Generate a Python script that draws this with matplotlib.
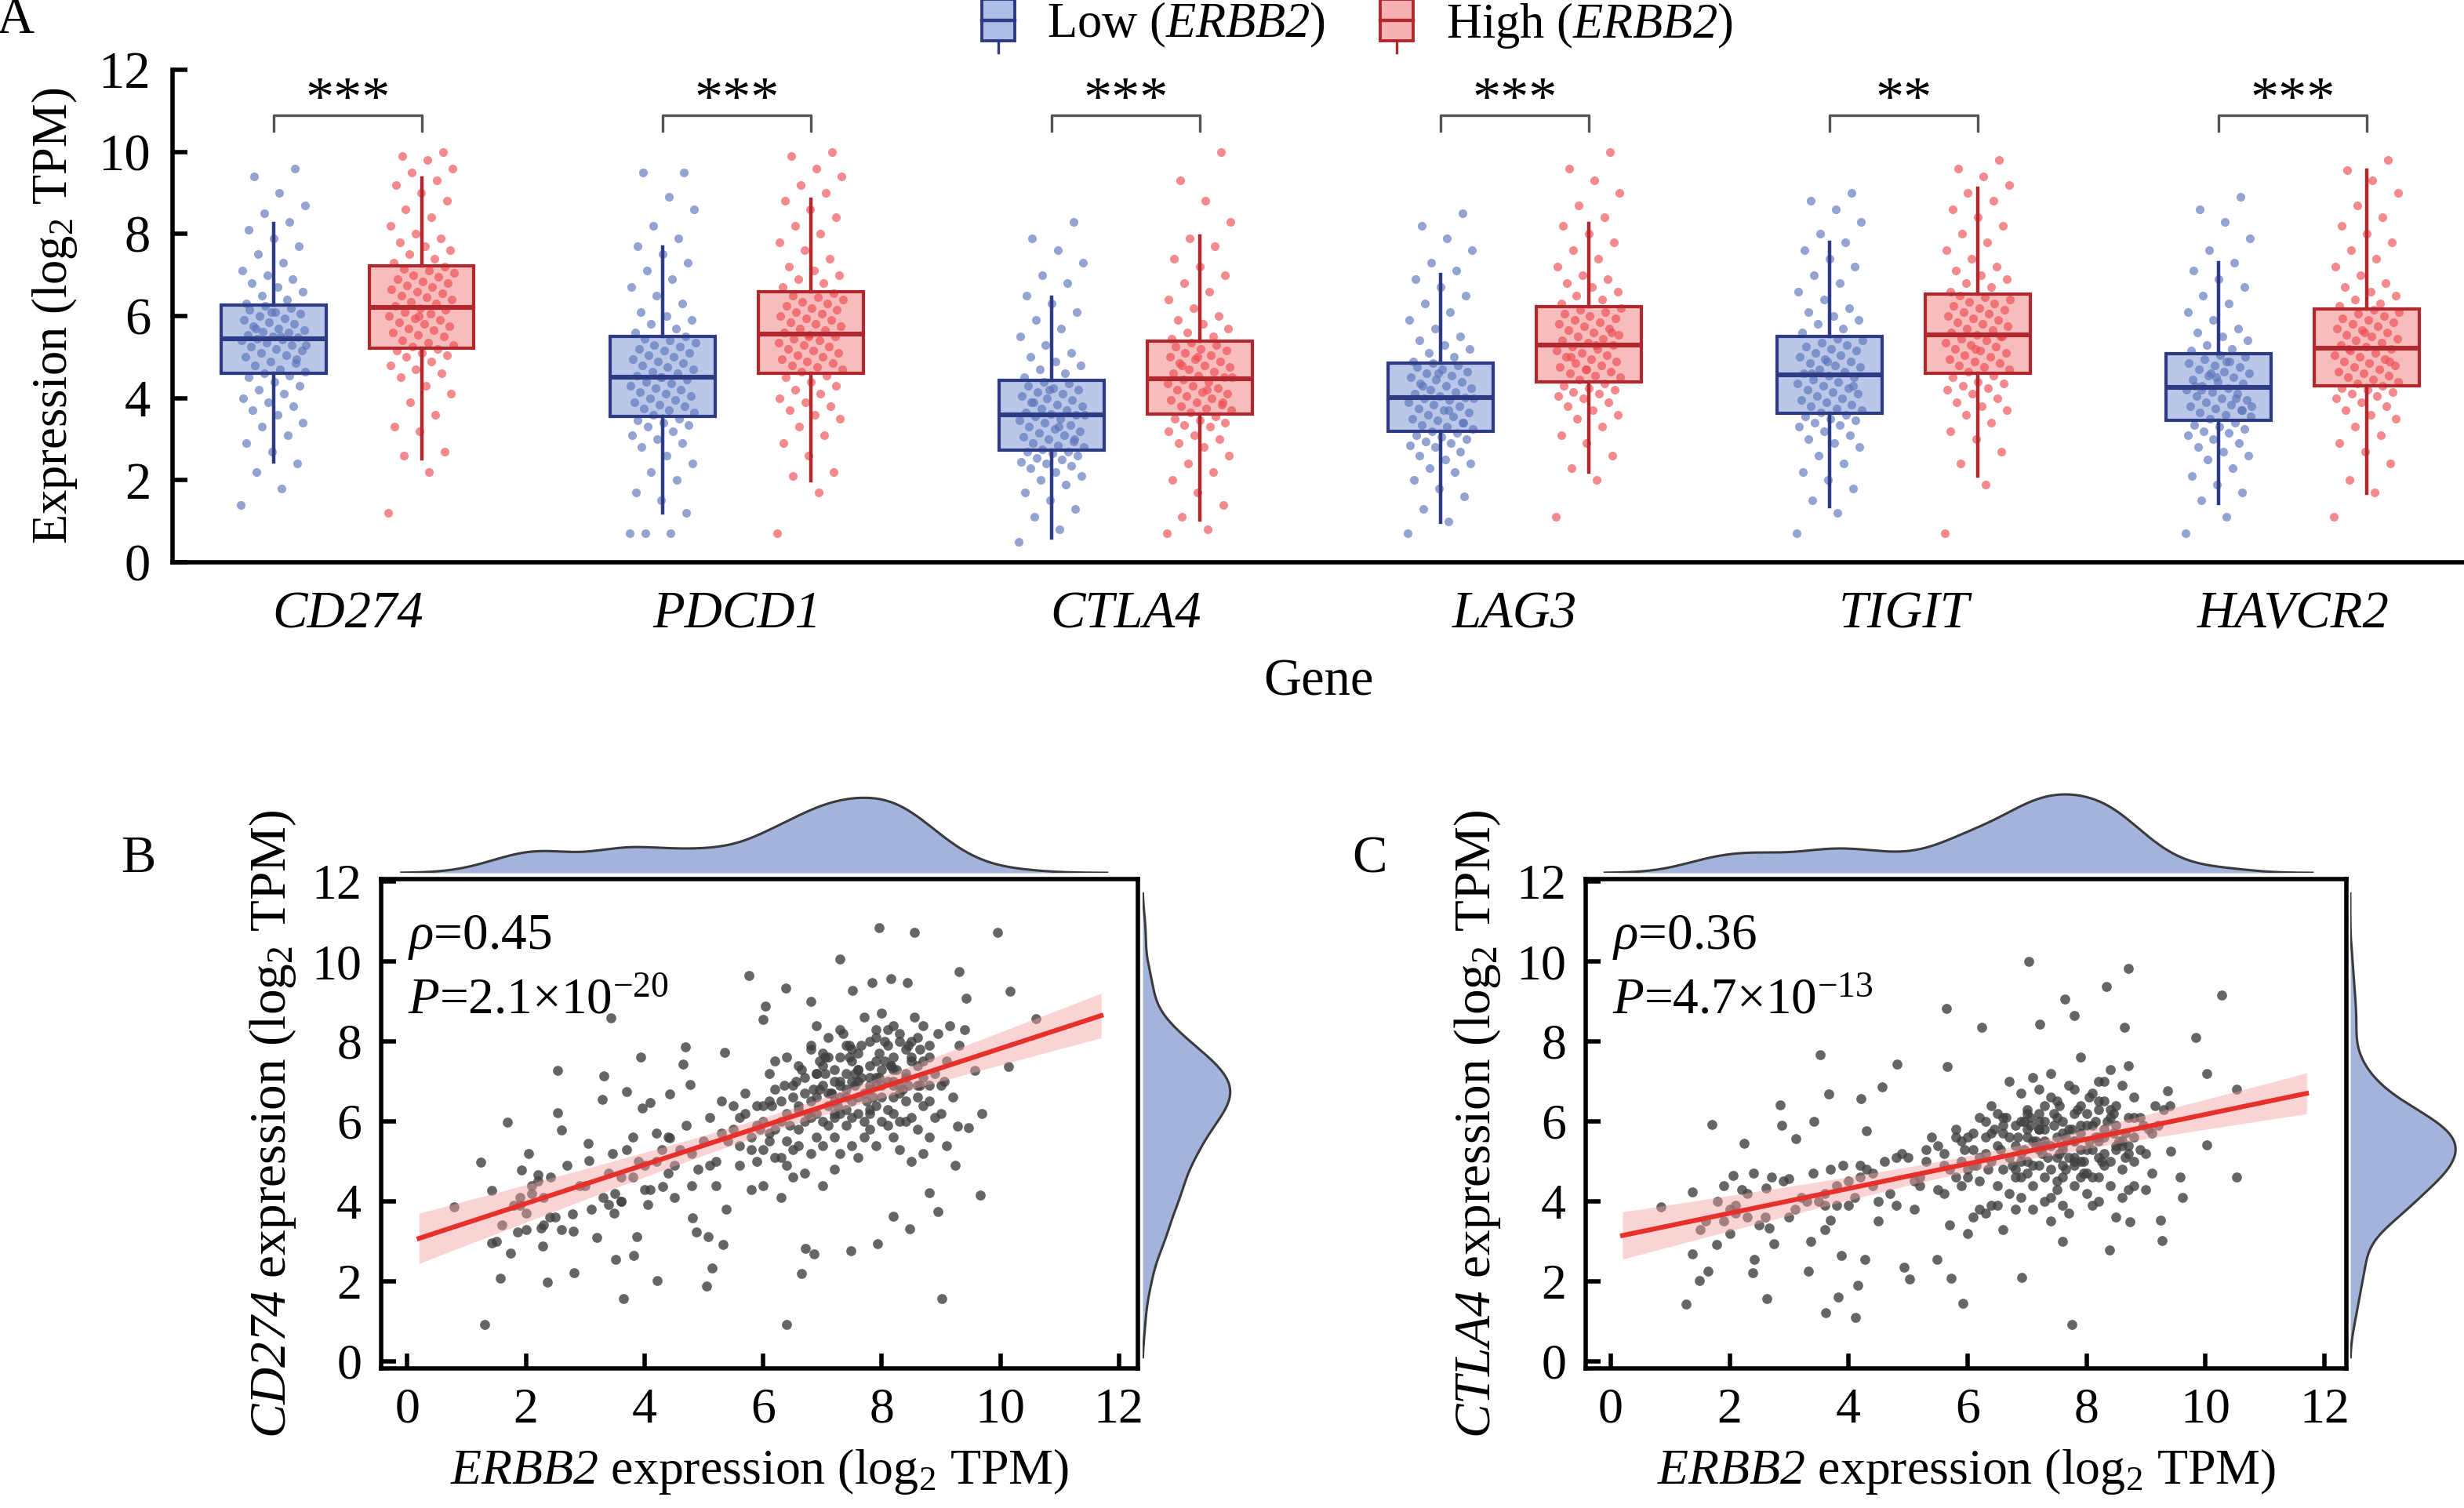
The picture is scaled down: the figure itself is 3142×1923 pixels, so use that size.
import numpy as np
import matplotlib
matplotlib.use("Agg")
from matplotlib import pyplot as plt
from matplotlib.patches import Rectangle, Patch
from matplotlib.lines import Line2D
from matplotlib.legend_handler import HandlerBase

# ---------- data: panel A (box stats) ----------
genes = ["CD274", "PDCD1", "CTLA4", "LAG3", "TIGIT", "HAVCR2"]
stars = ["***", "***", "***", "***", "**", "***"]

low_med = [5.45, 4.51, 3.59, 4.01, 4.57, 4.27]
low_q1 = [4.60, 3.56, 2.73, 3.19, 3.63, 3.45]
low_q3 = [6.27, 5.51, 4.43, 4.85, 5.50, 5.09]
low_whislo = [2.45, 1.20, 0.60, 0.98, 1.36, 1.44]
low_whishi = [8.25, 7.69, 6.46, 7.01, 7.80, 7.29]

high_med = [6.21, 5.56, 4.47, 5.29, 5.54, 5.22]
high_q1 = [5.22, 4.60, 3.61, 4.40, 4.60, 4.30]
high_q3 = [7.23, 6.59, 5.39, 6.22, 6.53, 6.18]
high_whislo = [2.52, 1.99, 1.03, 2.20, 2.10, 1.69]
high_whishi = [9.37, 8.84, 7.94, 8.25, 9.12, 9.56]

# jittered points (estimated)
low_cd274 = [1.4, 1.8, 2.2, 2.4, 2.7, 2.9, 3.1, 3.3, 3.4, 3.6, 3.7, 3.8, 3.9, 4.0, 4.1, 4.2, 4.3, 4.4, 4.5, 4.55,
             4.6, 4.65, 4.7, 4.8, 4.85, 4.9, 5.0, 5.05, 5.1, 5.15, 5.2, 5.25, 5.3, 5.35, 5.4, 5.42, 5.45, 5.48, 5.5, 5.55,
             5.6, 5.62, 5.65, 5.7, 5.75, 5.8, 5.85, 5.9, 5.95, 6.0, 6.05, 6.1, 6.15, 6.2, 6.25, 5.3, 5.5, 5.7, 4.95, 6.1,
             6.3, 6.4, 6.5, 6.6, 6.7, 6.8, 6.9, 7.0, 7.1, 7.3, 7.5, 7.7, 7.9, 8.1, 8.3, 8.5, 8.7, 9.0, 9.4, 9.6]
high_cd274 = [1.2, 2.2, 2.6, 2.7, 3.2, 3.3, 3.6, 3.9, 4.1, 4.3, 4.5, 4.6, 4.7, 4.8, 4.9, 5.0, 5.05, 5.1, 5.15, 5.2,
              5.25, 5.3, 5.35, 5.4, 5.5, 5.55, 5.6, 5.65, 5.7, 5.75, 5.8, 5.85, 5.9, 5.95, 6.0, 6.05, 6.1, 6.15, 6.2, 6.25,
              6.3, 6.35, 6.4, 6.45, 6.5, 6.55, 6.6, 6.65, 6.7, 6.75, 6.8, 6.85, 6.9, 6.95, 7.0, 7.05, 7.1, 7.15, 7.2, 6.0,
              7.3, 7.4, 7.5, 7.6, 7.7, 7.8, 7.9, 8.0, 8.2, 8.4, 8.6, 8.8, 9.0, 9.2, 9.3, 9.5, 9.6, 9.8, 9.9, 10.0]
low_pdcd1 = [0.7, 0.7, 0.7, 1.2, 1.5, 1.7, 2.0, 2.2, 2.4, 2.6, 2.8, 2.9, 3.0, 3.1, 3.2, 3.3, 3.35, 3.4, 3.45, 3.5,
             3.6, 3.65, 3.7, 3.75, 3.8, 3.85, 3.9, 3.95, 4.0, 4.05, 4.1, 4.15, 4.2, 4.25, 4.3, 4.35, 4.4, 4.45, 4.5, 4.55,
             4.6, 4.65, 4.7, 4.75, 4.8, 4.85, 4.9, 4.95, 5.0, 5.05, 5.1, 5.15, 5.2, 5.25, 5.3, 5.35, 5.4, 5.45, 5.5, 4.5,
             5.6, 5.7, 5.8, 5.9, 6.0, 6.1, 6.3, 6.5, 6.7, 6.9, 7.1, 7.3, 7.5, 7.7, 7.9, 8.2, 8.6, 8.9, 9.5, 9.5]
high_pdcd1 = [0.7, 1.7, 2.1, 2.2, 2.6, 2.9, 3.1, 3.3, 3.5, 3.6, 3.7, 3.8, 3.9, 4.0, 4.1, 4.2, 4.3, 4.4, 4.5, 4.55,
              4.65, 4.7, 4.75, 4.8, 4.85, 4.9, 4.95, 5.0, 5.05, 5.1, 5.15, 5.2, 5.25, 5.3, 5.35, 5.4, 5.45, 5.5, 5.55, 5.6,
              5.65, 5.7, 5.75, 5.8, 5.85, 5.9, 5.95, 6.0, 6.05, 6.1, 6.15, 6.2, 6.25, 6.3, 6.35, 6.4, 6.45, 6.5, 6.55, 5.5,
              6.7, 6.8, 6.9, 7.0, 7.1, 7.2, 7.4, 7.6, 7.8, 8.0, 8.2, 8.4, 8.6, 8.8, 9.0, 9.2, 9.4, 9.6, 9.9, 10.0]
low_ctla4 = [0.5, 0.8, 1.1, 1.3, 1.5, 1.7, 1.9, 2.0, 2.1, 2.2, 2.3, 2.35, 2.4, 2.45, 2.5, 2.55, 2.6, 2.65, 2.7, 2.7,
             2.75, 2.8, 2.85, 2.9, 2.95, 3.0, 3.05, 3.1, 3.15, 3.2, 3.25, 3.3, 3.35, 3.4, 3.45, 3.5, 3.55, 3.6, 3.62, 3.65,
             3.7, 3.75, 3.8, 3.85, 3.9, 3.95, 4.0, 4.05, 4.1, 4.15, 4.2, 4.25, 4.3, 4.35, 4.4, 3.6, 3.3, 3.9, 3.0, 4.2,
             4.5, 4.6, 4.7, 4.8, 4.9, 5.0, 5.1, 5.3, 5.5, 5.7, 5.9, 6.1, 6.3, 6.5, 6.8, 7.0, 7.3, 7.6, 7.9, 8.3]
high_ctla4 = [0.7, 0.8, 1.1, 1.4, 1.7, 2.0, 2.2, 2.4, 2.6, 2.8, 2.9, 3.0, 3.1, 3.2, 3.3, 3.35, 3.4, 3.45, 3.5, 3.55,
              3.65, 3.7, 3.75, 3.8, 3.85, 3.9, 3.95, 4.0, 4.05, 4.1, 4.15, 4.2, 4.25, 4.3, 4.35, 4.4, 4.45, 4.5, 4.55, 4.6,
              4.65, 4.7, 4.75, 4.8, 4.85, 4.9, 4.95, 5.0, 5.05, 5.1, 5.15, 5.2, 5.25, 5.3, 5.35, 4.5, 4.2, 4.8, 3.9, 5.0,
              5.45, 5.5, 5.6, 5.7, 5.8, 5.9, 6.0, 6.2, 6.4, 6.6, 6.8, 7.0, 7.2, 7.4, 7.7, 7.9, 8.3, 8.8, 9.3, 10.0]
low_lag3 = [0.7, 1.0, 1.3, 1.6, 1.8, 2.0, 2.2, 2.3, 2.4, 2.5, 2.6, 2.7, 2.8, 2.85, 2.9, 2.95, 3.0, 3.05, 3.1, 3.15,
            3.2, 3.25, 3.3, 3.35, 3.4, 3.45, 3.5, 3.55, 3.6, 3.65, 3.7, 3.75, 3.8, 3.85, 3.9, 3.95, 4.0, 4.02, 4.05, 4.1,
            4.15, 4.2, 4.25, 4.3, 4.35, 4.4, 4.45, 4.5, 4.55, 4.6, 4.65, 4.7, 4.75, 4.8, 4.85, 4.0, 3.7, 4.3, 3.4, 4.6,
            4.9, 5.0, 5.1, 5.2, 5.3, 5.4, 5.5, 5.7, 5.9, 6.1, 6.3, 6.5, 6.7, 6.9, 7.1, 7.3, 7.6, 7.9, 8.2, 8.5]
high_lag3 = [1.1, 2.0, 2.3, 2.6, 2.9, 3.1, 3.3, 3.5, 3.6, 3.7, 3.8, 3.9, 4.0, 4.05, 4.1, 4.15, 4.2, 4.25, 4.3, 4.35,
             4.45, 4.5, 4.55, 4.6, 4.65, 4.7, 4.75, 4.8, 4.85, 4.9, 4.95, 5.0, 5.05, 5.1, 5.15, 5.2, 5.25, 5.3, 5.35, 5.4,
             5.45, 5.5, 5.55, 5.6, 5.65, 5.7, 5.75, 5.8, 5.85, 5.9, 5.95, 6.0, 6.05, 6.1, 6.15, 6.2, 5.3, 5.0, 5.6, 4.7,
             6.3, 6.4, 6.5, 6.6, 6.7, 6.8, 6.9, 7.0, 7.2, 7.4, 7.6, 7.8, 8.0, 8.2, 8.4, 8.7, 9.0, 9.3, 9.6, 10.0]
low_tigit = [0.7, 1.2, 1.5, 1.8, 2.0, 2.2, 2.4, 2.6, 2.8, 2.9, 3.0, 3.1, 3.2, 3.3, 3.35, 3.4, 3.45, 3.5, 3.55, 3.6,
             3.65, 3.7, 3.75, 3.8, 3.85, 3.9, 3.95, 4.0, 4.05, 4.1, 4.15, 4.2, 4.25, 4.3, 4.35, 4.4, 4.45, 4.5, 4.55, 4.6,
             4.65, 4.7, 4.75, 4.8, 4.85, 4.9, 4.95, 5.0, 5.05, 5.1, 5.15, 5.2, 5.25, 5.3, 5.35, 5.4, 5.45, 4.6, 4.3, 4.9,
             5.6, 5.7, 5.8, 5.9, 6.0, 6.1, 6.2, 6.4, 6.6, 6.8, 7.0, 7.2, 7.4, 7.6, 7.8, 8.0, 8.3, 8.6, 8.8, 9.0]
high_tigit = [0.7, 1.9, 2.4, 2.7, 3.0, 3.2, 3.4, 3.6, 3.7, 3.8, 3.9, 4.0, 4.1, 4.2, 4.25, 4.3, 4.35, 4.4, 4.5, 4.55,
              4.65, 4.7, 4.75, 4.8, 4.85, 4.9, 4.95, 5.0, 5.05, 5.1, 5.15, 5.2, 5.25, 5.3, 5.35, 5.4, 5.45, 5.5, 5.55, 5.6,
              5.65, 5.7, 5.75, 5.8, 5.85, 5.9, 5.95, 6.0, 6.05, 6.1, 6.15, 6.2, 6.25, 6.3, 6.35, 6.4, 6.45, 6.5, 5.5, 5.2,
              6.6, 6.7, 6.8, 6.9, 7.0, 7.1, 7.2, 7.4, 7.6, 7.8, 8.0, 8.2, 8.4, 8.6, 8.8, 9.0, 9.2, 9.4, 9.6, 9.8]
low_havcr2 = [0.7, 1.1, 1.5, 1.7, 1.9, 2.1, 2.3, 2.5, 2.6, 2.7, 2.8, 2.9, 3.0, 3.1, 3.15, 3.2, 3.25, 3.3, 3.35, 3.4,
              3.5, 3.55, 3.6, 3.65, 3.7, 3.75, 3.8, 3.85, 3.9, 3.95, 4.0, 4.05, 4.1, 4.15, 4.2, 4.25, 4.3, 4.35, 4.4, 4.45,
              4.5, 4.55, 4.6, 4.65, 4.7, 4.75, 4.8, 4.85, 4.9, 4.95, 5.0, 5.05, 4.3, 4.0, 4.6, 3.8, 4.9, 4.2, 3.7, 4.5,
              5.15, 5.2, 5.3, 5.4, 5.5, 5.6, 5.7, 5.9, 6.1, 6.3, 6.5, 6.7, 6.9, 7.1, 7.3, 7.6, 7.9, 8.3, 8.6, 8.9]
high_havcr2 = [1.1, 1.7, 2.0, 2.4, 2.7, 2.9, 3.1, 3.3, 3.5, 3.6, 3.7, 3.8, 3.9, 4.0, 4.05, 4.1, 4.15, 4.2, 4.25, 4.3,
               4.35, 4.4, 4.45, 4.5, 4.55, 4.6, 4.65, 4.7, 4.75, 4.8, 4.85, 4.9, 4.95, 5.0, 5.05, 5.1, 5.15, 5.2, 5.25, 5.3,
               5.35, 5.4, 5.45, 5.5, 5.55, 5.6, 5.65, 5.7, 5.75, 5.8, 5.85, 5.9, 5.95, 6.0, 6.05, 6.1, 6.15, 5.2, 4.9, 5.6,
               6.25, 6.3, 6.4, 6.5, 6.6, 6.7, 6.8, 7.0, 7.2, 7.4, 7.6, 7.8, 8.0, 8.2, 8.4, 8.7, 9.0, 9.3, 9.56, 9.8]

low_points = [low_cd274, low_pdcd1, low_ctla4, low_lag3, low_tigit, low_havcr2]
high_points = [high_cd274, high_pdcd1, high_ctla4, high_lag3, high_tigit, high_havcr2]

# ---------- data: panels B and C ----------
core_erbb2 = [6.2, 6.5, 6.8, 7.0, 7.2, 7.4, 7.6, 7.8, 8.0, 8.2,
              5.6, 5.9, 6.1, 6.3, 6.6, 6.9, 7.1, 7.3, 7.5, 7.7,
              7.9, 8.1, 8.3, 8.5, 8.7, 8.9, 9.1, 6.4, 6.7, 7.0,
              7.2, 7.4, 7.6, 7.8, 8.0, 8.2, 8.4, 5.8, 6.0, 6.2,
              6.5, 6.8, 7.1, 7.3, 7.5, 7.7, 7.9, 8.1, 8.3, 8.6,
              8.8, 9.0, 5.7, 6.1, 6.4, 6.7, 6.9, 7.2, 7.4, 7.6,
              7.8, 8.0, 8.2, 8.4, 8.6, 8.8, 9.2, 6.3, 6.6, 6.9,
              7.1, 7.3, 7.5, 7.7, 7.9, 8.1, 8.3, 8.5, 8.7, 6.0,
              6.2, 6.5, 6.8, 7.0, 7.2, 7.4, 7.6, 7.8, 8.0, 8.2,
              8.4, 8.6, 8.9, 9.3, 5.9, 6.4, 6.7, 7.0, 7.3, 7.6,
              7.9, 8.2, 8.5, 8.8, 9.1, 6.1, 6.6, 7.1, 7.5, 7.9,
              8.3, 8.7, 6.3, 6.8, 7.3, 7.7, 8.1, 8.5, 6.5, 7.0,
              7.4, 7.8, 8.2, 8.6, 9.0, 5.8, 6.2, 6.9, 7.2, 7.6,
              8.0, 8.4, 8.8, 6.0, 6.6, 7.1, 7.5, 7.9, 8.3, 8.7,
              5.6, 6.4, 6.9, 7.4, 7.8, 8.2, 8.6, 9.4, 6.7, 7.2,
              6.85, 7.05, 7.25, 7.45, 7.65, 7.85, 8.05, 8.25, 8.45, 8.65,
              6.55, 6.75, 6.95, 7.15, 7.35, 7.55, 7.75, 7.95, 8.15, 8.35,
              7.0, 7.3, 7.6, 7.9, 8.2, 8.5, 6.6, 6.9, 7.2, 7.5,
              7.8, 8.1, 8.4, 8.7, 6.3, 6.8, 7.3, 7.8, 8.3, 8.8,
              6.45, 6.95, 7.45, 7.95, 8.45, 8.95, 6.15, 6.65, 7.15, 7.65,
              8.15, 8.65, 9.15, 5.95, 6.35, 7.05, 7.55, 8.05, 8.55, 9.05]
core_cd274 = [5.8, 6.9, 6.1, 7.4, 6.5, 7.9, 6.2, 7.1, 6.6, 7.6,
              4.9, 6.4, 7.2, 5.1, 6.3, 5.6, 8.1, 6.9, 5.4, 6.7,
              8.3, 5.9, 6.9, 8.0, 7.1, 6.1, 7.5, 7.6, 4.7, 6.0,
              7.3, 6.3, 7.7, 5.8, 7.3, 6.2, 7.8, 5.6, 4.4, 6.8,
              5.3, 7.8, 6.7, 5.2, 7.0, 8.6, 6.4, 7.0, 5.3, 6.6,
              7.9, 6.9, 6.7, 5.5, 6.2, 7.1, 6.6, 4.8, 6.8, 7.3,
              6.2, 8.7, 6.9, 6.0, 7.4, 5.6, 6.6, 4.1, 5.8, 8.4,
              5.9, 7.6, 6.5, 5.6, 7.5, 6.3, 8.2, 6.1, 5.2, 6.0,
              7.5, 4.6, 6.5, 5.4, 7.0, 5.9, 6.6, 8.0, 6.0, 7.3,
              6.5, 5.8, 7.2, 7.9, 5.0, 5.5, 6.0, 6.9, 6.2, 5.1,
              6.9, 5.6, 7.5, 6.5, 5.4, 6.5, 7.4, 6.4, 7.8, 5.4,
              6.7, 8.4, 6.0, 5.2, 8.3, 6.0, 7.9, 5.0, 6.6, 4.4,
              7.2, 6.8, 6.6, 8.1, 6.2, 4.3, 5.1, 6.2, 5.6, 7.0,
              6.9, 7.1, 6.9, 5.3, 5.4, 7.6, 6.1, 7.1, 6.0, 6.4,
              6.1, 4.9, 7.2, 6.6, 7.4, 8.4, 6.9, 8.3, 6.7, 6.2,
              6.8, 7.6, 6.4, 7.9, 7.1, 6.6, 8.0, 7.3, 6.9, 7.8,
              7.0, 6.2, 7.5, 6.7, 8.2, 7.2, 6.5, 7.7, 7.4, 6.8,
              7.7, 6.6, 7.3, 8.1, 7.0, 7.6, 6.4, 7.2, 6.1, 7.5,
              6.9, 8.3, 7.2, 7.5, 6.5, 7.9, 7.0, 6.3, 8.0, 7.6,
              5.9, 6.8, 7.6, 7.1, 7.9, 8.2, 6.4, 7.3, 6.7, 7.9,
              7.4, 6.9, 8.4, 5.8, 6.9, 7.2, 6.9, 7.5, 8.6, 7.0]
core_ctla4 = [5.1, 6.2, 4.6, 5.8, 4.9, 6.6, 5.3, 4.4, 5.9, 6.3,
              4.2, 5.5, 3.6, 6.0, 4.8, 5.2, 7.1, 4.0, 5.6, 6.9,
              5.0, 4.6, 6.5, 5.4, 4.3, 6.1, 5.7, 3.9, 7.0, 4.7,
              6.0, 3.5, 5.7, 6.8, 4.2, 5.5, 7.3, 5.8, 3.2, 4.5,
              5.4, 3.8, 5.5, 6.4, 4.5, 5.1, 7.6, 3.9, 5.8, 4.8,
              6.6, 5.2, 3.4, 4.9, 6.4, 5.6, 4.1, 5.3, 7.2, 4.6,
              5.5, 6.2, 4.0, 5.0, 6.9, 4.4, 5.9, 5.2, 3.3, 6.7,
              4.4, 5.8, 6.5, 3.7, 5.3, 6.7, 4.9, 5.9, 7.4, 4.8,
              6.1, 3.9, 5.9, 5.0, 6.8, 4.8, 6.0, 5.1, 4.7, 5.6,
              6.1, 4.1, 5.3, 6.3, 4.4, 5.0, 4.2, 6.3, 5.5, 3.9,
              6.4, 5.1, 3.6, 5.6, 4.7, 5.7, 6.1, 4.9, 5.1, 4.6,
              7.0, 5.2, 3.7, 5.4, 4.6, 5.8, 5.3, 6.4, 4.4, 5.6,
              5.4, 4.9, 7.0, 5.5, 4.3, 4.6, 3.8, 5.0, 6.2, 5.4,
              5.3, 4.4, 5.0, 5.6, 5.7, 3.8, 4.3, 5.9, 5.6, 6.1,
              4.9, 5.7, 6.0, 4.1, 6.2, 4.6, 5.4, 6.4, 5.1, 5.8,
              5.6, 6.1, 5.2, 5.9, 4.8, 6.3, 5.5, 5.0, 6.2, 5.7,
              5.3, 4.9, 6.0, 5.5, 5.1, 6.4, 5.8, 4.7, 5.6, 6.0,
              6.2, 5.4, 4.9, 5.7, 6.5, 5.3, 5.9, 4.6, 5.8, 6.1,
              5.0, 5.9, 6.3, 5.4, 5.6, 4.8, 6.0, 5.5, 5.2, 6.1,
              5.8, 5.3, 6.2, 5.0, 5.7, 5.9, 4.9, 6.1, 5.4, 5.6,
              6.0, 5.1, 6.4, 5.3, 4.8, 5.9, 5.2, 6.6, 5.5, 5.8]

# ERBB2 values of the sparser samples outside the dense core (shared by B and C)
spread_erbb2 = [1.9, 2.1, 2.4, 3.0, 3.2, 3.6, 3.8, 4.0, 4.3, 4.5, 4.7, 4.9, 5.1, 5.2, 5.4, 5.5,
                1.5, 1.8, 2.0, 2.3, 2.6, 2.9, 3.1, 3.4, 3.6, 3.9, 4.1, 4.2, 4.4, 4.6, 4.8, 5.0, 5.1, 5.3, 3.3, 2.1,
                1.6, 2.0, 2.2, 2.5, 2.7, 3.5, 3.7, 3.8, 4.0, 4.2, 4.5, 4.8, 5.2, 5.5, 5.7, 5.8, 6.0, 6.1, 5.9, 3.6,
                2.3, 1.9, 4.4, 5.3, 5.6]
spread_cd274 = [3.9, 4.2, 3.6, 4.4, 3.1, 4.6, 5.6, 4.9, 5.3, 4.1, 5.9, 4.8, 6.1, 4.4, 5.5, 6.4,
                3.0, 3.9, 3.3, 4.1, 3.3, 4.4, 3.8, 4.7, 4.0, 5.0, 4.3, 5.0, 4.7, 5.3, 4.4, 5.5, 4.9, 5.7, 4.1, 4.4,
                3.4, 3.7, 4.5, 3.6, 4.9, 4.2, 5.3, 4.6, 4.3, 5.7, 4.9, 5.2, 5.0, 5.8, 6.2, 5.3, 6.4, 5.7, 5.9, 4.0,
                3.4, 4.1, 5.6, 6.5, 5.4]
spread_ctla4 = [3.5, 3.9, 4.7, 3.6, 4.1, 3.3, 4.4, 3.9, 4.8, 3.5, 4.2, 5.2, 3.8, 4.6, 5.6, 4.3,
                3.3, 4.0, 3.2, 4.2, 3.6, 4.5, 3.8, 4.7, 3.9, 4.9, 4.1, 4.6, 4.4, 5.0, 3.9, 5.1, 4.5, 5.3, 4.0, 3.7,
                3.5, 3.8, 4.3, 3.4, 4.6, 4.0, 4.8, 3.9, 4.5, 4.9, 4.0, 5.1, 4.4, 5.4, 4.8, 5.6, 4.6, 5.3, 5.0, 4.2,
                3.6, 4.4, 4.7, 5.0, 5.2]

# isolated points
tail_b_x = [0.79, 1.24, 1.42, 1.30, 1.42, 1.57, 1.69, 1.74, 1.86, 1.93, 2.05, 2.21, 2.26, 2.28, 2.36, 2.42,
            2.54, 2.54, 2.60, 2.78, 2.80, 2.81, 3.05, 3.07, 3.31, 3.29, 3.43, 3.39, 3.46, 3.49, 3.51, 3.64,
            3.70, 3.82, 3.87, 3.94, 3.96, 4.05, 4.10, 4.22, 4.31, 4.43, 4.43, 4.65, 4.69, 4.77, 4.81, 4.88,
            5.05, 5.08, 5.14, 5.33, 5.35, 5.38, 5.76, 6.00, 6.04, 6.38, 6.39, 6.65, 6.71, 6.80, 6.86, 7.30,
            7.51, 7.48, 7.93, 7.95, 7.84, 8.15, 8.43, 8.55, 8.19, 8.47, 8.80, 8.95, 9.01, 9.24, 9.30, 9.66,
            9.69, 9.57, 9.42, 9.95, 10.17, 10.14, 10.60, 9.46, 9.28]
tail_b_y = [3.86, 4.98, 4.27, 0.92, 2.96, 2.08, 5.97, 2.71, 3.23, 4.79, 5.19, 4.67, 3.34, 2.88, 1.98, 4.61,
            7.27, 6.21, 5.79, 3.69, 3.25, 2.21, 5.44, 5.02, 7.13, 6.55, 8.59, 3.92, 5.19, 3.71, 2.54, 1.56,
            6.75, 2.65, 3.11, 7.61, 6.34, 3.92, 6.46, 2.02, 4.38, 6.69, 5.59, 7.44, 7.87, 6.92, 3.58, 3.23,
            1.87, 3.11, 2.33, 2.91, 7.73, 3.81, 9.64, 8.54, 8.88, 9.34, 0.92, 2.19, 2.83, 9.00, 2.68, 10.06,
            9.28, 2.77, 2.94, 10.84, 9.48, 9.57, 9.48, 10.73, 3.63, 3.31, 4.21, 3.75, 1.56, 4.90, 9.74, 4.15,
            6.19, 7.27, 9.07, 10.73, 9.25, 7.38, 8.56, 5.84, 5.88]

# isolated points
tail_c_x = [0.85, 1.27, 1.37, 1.37, 1.49, 1.64, 1.70, 1.78, 2.06, 2.24, 2.39, 2.42, 2.61, 2.63, 2.67, 2.75,
            2.85, 2.87, 3.00, 3.12, 3.33, 3.36, 3.42, 3.52, 3.61, 3.67, 3.70, 3.82, 3.88, 4.12, 4.16, 4.21,
            4.27, 4.30, 4.57, 4.81, 4.93, 5.03, 5.49, 5.64, 5.66, 5.73, 5.92, 6.24, 6.91, 7.03, 7.21, 7.60,
            7.64, 7.76, 7.79, 8.33, 8.39, 8.64, 8.70, 8.73, 9.25, 9.27, 9.37, 9.42, 9.58, 9.61, 9.84, 10.02,
            10.02, 10.27, 10.52, 10.52]
tail_c_y = [3.86, 1.42, 4.23, 2.68, 2.02, 2.25, 5.92, 2.91, 4.64, 5.44, 2.21, 2.54, 4.33, 1.56, 3.34, 2.94,
            6.42, 5.91, 4.56, 5.56, 2.25, 3.00, 6.00, 7.67, 1.21, 6.69, 3.52, 1.61, 2.65, 1.10, 1.90, 6.57,
            2.54, 5.77, 6.86, 7.44, 2.36, 2.05, 2.54, 8.82, 7.38, 2.08, 1.44, 8.36, 2.10, 10.00, 8.44, 3.00,
            9.05, 0.92, 8.65, 9.37, 2.79, 8.36, 9.83, 3.48, 3.52, 3.02, 6.77, 5.25, 4.61, 4.09, 8.10, 7.19,
            5.42, 9.15, 4.61, 6.80]

rho_text = [r"$\mathit{\rho}$=0.45", r"$\mathit{\rho}$=0.36"]
p_text = [r"$\mathit{P}$=2.1×10$^{-20}$", r"$\mathit{P}$=4.7×10$^{-13}$"]
fit_range = (0.2, 11.7)

# ---------- style ----------
plt.rcParams["font.family"] = ["Liberation Serif", "DejaVu Serif"]
plt.rcParams["mathtext.fontset"] = "custom"
plt.rcParams["mathtext.rm"] = "Liberation Serif"
plt.rcParams["mathtext.it"] = "Liberation Serif:italic"
plt.rcParams["mathtext.sf"] = "Liberation Serif:italic"   # italic gene names incl. digits
plt.rcParams["mathtext.bf"] = "Liberation Serif:bold"

low_face, low_edge, low_dot = "#aebde4", "#2d3a84", "#5b73bb"
high_face, high_edge, high_dot = "#f6b2b2", "#b0282d", "#ef4b51"

W, H = 3142, 1923
DPI = 200
fig = plt.figure(figsize=(W / DPI, H / DPI), dpi=DPI)


def fbox(l, t, r, b):
    return [l / W, 1 - b / H, (r - l) / W, (b - t) / H]


# ---------- panel A ----------
axA = fig.add_axes(fbox(220, 89, W, 717))
pos = np.arange(len(genes))
off, bw = 0.19, 0.27


def stats(med, q1, q3, lo, hi):
    return [dict(med=m, q1=a, q3=b, whislo=c, whishi=d, fliers=[])
            for m, a, b, c, d in zip(med, q1, q3, lo, hi)]


for st, p, face, edge, dots in [
        (stats(low_med, low_q1, low_q3, low_whislo, low_whishi), pos - off, low_face, low_edge, (low_points, low_dot)),
        (stats(high_med, high_q1, high_q3, high_whislo, high_whishi), pos + off, high_face, high_edge, (high_points, high_dot))]:
    # filled boxes underneath
    axA.bxp(st, positions=p, widths=bw, patch_artist=True, showcaps=False,
            boxprops=dict(facecolor=face, edgecolor="none", alpha=0.85),
            whiskerprops=dict(visible=False), medianprops=dict(visible=False), zorder=1)
    # jittered points
    for k, vals in enumerate(dots[0]):
        vals = np.asarray(vals)
        jit = ((np.arange(len(vals)) * 0.618034) % 1 - 0.5) * 0.17
        axA.scatter(p[k] + jit, vals, s=16, color=dots[1], alpha=0.65, linewidths=0, zorder=2)
    # outlines on top
    axA.bxp(st, positions=p, widths=bw, patch_artist=True, showcaps=False,
            boxprops=dict(facecolor="none", edgecolor=edge, linewidth=1.5),
            whiskerprops=dict(color=edge, linewidth=1.6),
            medianprops=dict(color=edge, linewidth=2.2), zorder=3)

for k, s in enumerate(stars):
    xl, xh = pos[k] - off, pos[k] + off
    axA.plot([xl, xl, xh, xh], [10.5, 10.9, 10.9, 10.5], color="#555555", lw=1.2, zorder=3)
    axA.text(pos[k], 10.9, s, ha="center", va="baseline", fontsize=26)

axA.set_xlim(-0.45, 5.44)
axA.set_ylim(0, 12)
axA.set_yticks(range(0, 13, 2))
axA.set_xticks(pos)
axA.set_xticklabels(genes, fontstyle="italic", fontsize=24)
axA.tick_params(axis="x", length=0, pad=13)
axA.tick_params(axis="y", direction="in", length=7, width=2, labelsize=24, pad=10)
for sp in ["top", "right"]:
    axA.spines[sp].set_visible(False)
for sp in ["left", "bottom"]:
    axA.spines[sp].set_linewidth(2)
axA.set_xlabel("Gene", fontsize=24, labelpad=9)
axA.set_ylabel("Expression (log$_2$ TPM)", fontsize=22.5, labelpad=9)


class MiniBox(HandlerBase):
    def create_artists(self, legend, orig, xd, yd, width, height, fontsize, trans):
        face, edge = orig.get_facecolor(), orig.get_edgecolor()
        bwid = height * 0.95
        cx = -xd + width / 2
        y0 = -yd - height * 0.1
        hh = height * 1.2
        rect = Rectangle((cx - bwid / 2, y0), bwid, hh, facecolor=face, edgecolor=edge, lw=1.4, transform=trans)
        med = Line2D([cx - bwid / 2, cx + bwid / 2], [y0 + hh / 2] * 2, color=edge, lw=1.6, transform=trans)
        w1 = Line2D([cx, cx], [y0 + hh, y0 + hh + height * 0.35], color=edge, lw=1.2, transform=trans)
        w2 = Line2D([cx, cx], [y0 - height * 0.35, y0], color=edge, lw=1.2, transform=trans)
        return [rect, med, w1, w2]


handles = [Patch(facecolor=low_face, edgecolor=low_edge), Patch(facecolor=high_face, edgecolor=high_edge)]
fig.legend(handles, [r"Low ($\mathsf{ERBB2}$)", r"High ($\mathsf{ERBB2}$)"],
           handler_map={Patch: MiniBox()}, loc="center", bbox_to_anchor=(1727 / W, 1 - 32 / H),
           ncol=2, frameon=False, fontsize=22.5, handlelength=0.9, handletextpad=0.55, columnspacing=1.0)

fig.text(19 / W, 1 - 26 / H, "A", fontsize=24, ha="center", va="center")


# ---------- panels B and C ----------
def kde(vals, grid, bwk):
    z = (grid[:, None] - vals[None, :]) / bwk
    return np.exp(-0.5 * z ** 2).sum(axis=1) / (len(vals) * bwk * np.sqrt(2 * np.pi))


panels = [
    dict(x=np.r_[core_erbb2, spread_erbb2, tail_b_x], y=np.r_[core_cd274, spread_cd274, tail_b_y], gene="CD274",
         main=(486, 1121, 1451, 1745), xlim=(-0.44, 12.32), right=(1457, 1608), label=("B", 176)),
    dict(x=np.r_[core_erbb2, spread_erbb2, tail_c_x], y=np.r_[core_ctla4, spread_ctla4, tail_c_y], gene="CTLA4",
         main=(2022, 1121, 2992, 1745), xlim=(-0.42, 12.37), right=(2997, 3142), label=("C", 1746)),
]

gx = np.linspace(-0.1, 11.8, 300)
gy = np.linspace(0.1, 11.7, 300)
dens_x = [kde(p["x"], gx, 0.45) for p in panels]
dens_y = [kde(p["y"], gy, 0.45) for p in panels]
top_max = max(d.max() for d in dens_x)
right_max = max(d.max() for d in dens_y)
marg_face, marg_edge = "#a3b3dc", "#3a3a3a"

for i, p in enumerate(panels):
    l, t, r, b = p["main"]
    ax = fig.add_axes(fbox(l, t, r, b))
    ax.scatter(p["x"], p["y"], s=21, color="#404040", alpha=0.8, linewidths=0, zorder=2)

    slope, icpt = np.polyfit(p["x"], p["y"], 1)
    xs = np.linspace(fit_range[0], fit_range[1], 100)
    yfit = icpt + slope * xs
    n = len(p["x"])
    resid = p["y"] - (icpt + slope * p["x"])
    s_err = np.sqrt((resid ** 2).sum() / (n - 2))
    xm = p["x"].mean()
    sxx = ((p["x"] - xm) ** 2).sum()
    ci = 2.8 * s_err * np.sqrt(1 / n + (xs - xm) ** 2 / sxx)
    ax.fill_between(xs, yfit - ci, yfit + ci, color="#f4a0a0", alpha=0.45, linewidth=0, zorder=3)
    ax.plot(xs, yfit, color="#e8302b", lw=2.2, zorder=4)

    ax.set_xlim(*p["xlim"])
    ax.set_ylim(-0.18, 12.06)
    ax.set_xticks(range(0, 13, 2))
    ax.set_yticks(range(0, 13, 2))
    ax.tick_params(direction="in", length=7, width=2, labelsize=23, pad=9)
    for sp in ax.spines.values():
        sp.set_linewidth(2)
    ax.set_xlabel(r"$\mathsf{ERBB2}$ expression (log$_2$ TPM)", fontsize=23, labelpad=6)
    ax.set_ylabel(r"$\mathsf{%s}$ expression (log$_2$ TPM)" % p["gene"], fontsize=23.5, labelpad=6)
    ax.text(0.035, 0.93, rho_text[i], transform=ax.transAxes, fontsize=23.5, va="top")
    ax.text(0.035, 0.80, p_text[i], transform=ax.transAxes, fontsize=23.5, va="top")

    axt = fig.add_axes(fbox(l, 1008, r, 1113), sharex=ax)
    axt.fill_between(gx, 0, dens_x[i], color=marg_face, linewidth=0)
    axt.plot(gx, dens_x[i], color=marg_edge, lw=1.1)
    axt.set_ylim(0, top_max * 1.05)
    axt.axis("off")

    rl, rr = p["right"]
    axr = fig.add_axes(fbox(rl, t, rr, b), sharey=ax)
    axr.fill_betweenx(gy, 0, dens_y[i], color=marg_face, linewidth=0)
    axr.plot(dens_y[i], gy, color=marg_edge, lw=1.1)
    axr.set_xlim(0, right_max * 1.08)
    axr.axis("off")

    fig.text(p["label"][1] / W, 1 - 1096 / H, p["label"][0], fontsize=24, ha="center", va="center")

fig.savefig("out.png", dpi=DPI)
